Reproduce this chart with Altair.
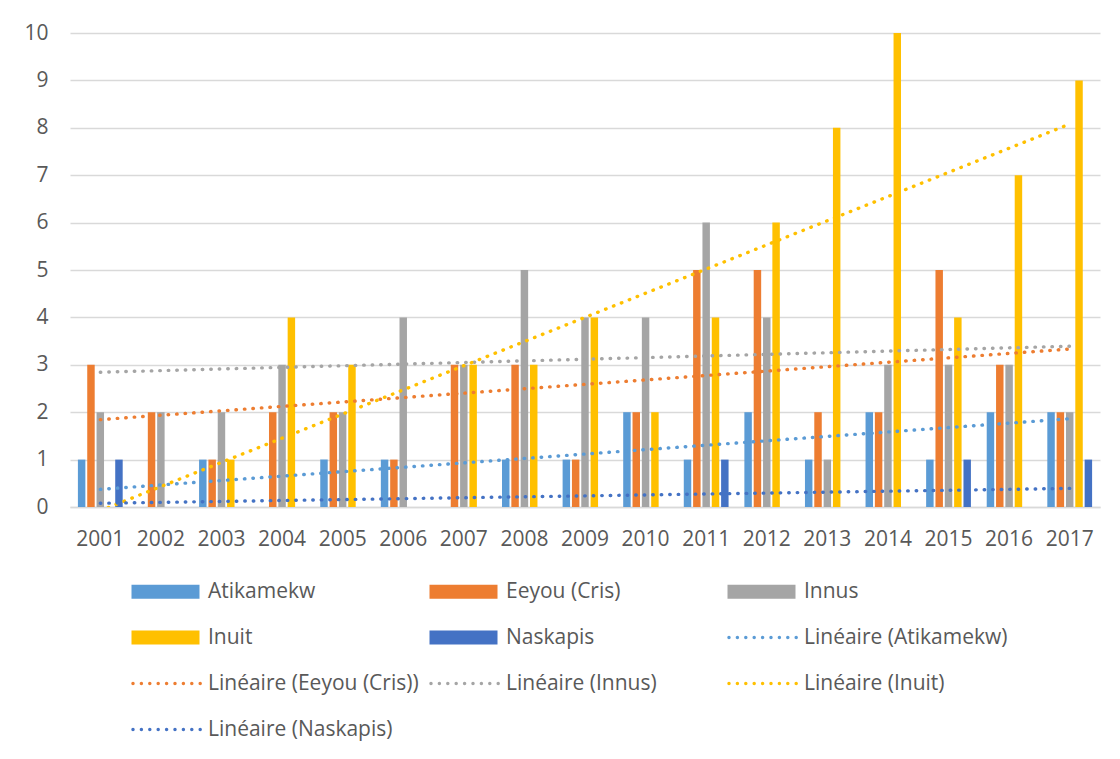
import altair as alt
import pandas as pd

years = [2001, 2002, 2003, 2004, 2005, 2006, 2007, 2008, 2009, 2010,
         2011, 2012, 2013, 2014, 2015, 2016, 2017]
atikamekw = [1, 0, 1, 0, 1, 1, 0, 1, 1, 2, 1, 2, 1, 2, 1, 2, 2]
eeyou = [3, 2, 1, 2, 2, 1, 3, 3, 1, 2, 5, 5, 2, 2, 5, 3, 2]
innus = [2, 2, 2, 3, 2, 4, 3, 5, 4, 4, 6, 4, 1, 3, 3, 3, 2]
inuit = [0, 0, 1, 4, 3, 0, 3, 3, 4, 2, 4, 6, 8, 10, 4, 7, 9]
naskapis = [1, 0, 0, 0, 0, 0, 0, 0, 0, 0, 1, 0, 0, 0, 1, 0, 1]

series_names = ["Atikamekw", "Eeyou (Cris)", "Innus", "Inuit", "Naskapis"]
series_colors = ["#5B9BD5", "#ED7D31", "#A5A5A5", "#FFC000", "#4472C4"]
trend_names = ["Linéaire (Atikamekw)", "Linéaire (Eeyou (Cris))", "Linéaire (Innus)",
               "Linéaire (Inuit)", "Linéaire (Naskapis)"]
y_ticks = [0, 1, 2, 3, 4, 5, 6, 7, 8, 9, 10]

FONT = "Open Sans"
TEXT = "#595959"
GRID = "#D9D9D9"

rows = []
for s, vals in zip(series_names, [atikamekw, eeyou, innus, inuit, naskapis]):
    for yr, v in zip(years, vals):
        rows.append({"yr": yr, "year": str(yr), "series": s, "val": v})
df = pd.DataFrame(rows)

# legend symbols (style only): a wide swatch for bars, a row of dots for trend lines
rect_path = "M-1,-0.7H5.8V0.7H-1Z"
r = 0.17
dot_parts = []
for k in range(9):
    cx = -0.85 + 0.84 * k
    dot_parts.append(f"M{cx - r:.3f},0A{r},{r} 0 1,0 {cx + r:.3f},0A{r},{r} 0 1,0 {cx - r:.3f},0Z")
dots_path = "".join(dot_parts)

legend_names = series_names + trend_names
legend_colors = series_colors + series_colors
legend_shapes = [rect_path] * 5 + [dots_path] * 5

x_enc = alt.X("year:O", title=None,
              scale=alt.Scale(paddingInner=0.23, paddingOuter=0.115),
              axis=alt.Axis(labelAngle=0, ticks=False, grid=False, domainColor=GRID,
                            domainWidth=1.3, labelPadding=21))
y_enc = alt.Y("val:Q", title=None, scale=alt.Scale(domain=[0, 10], nice=False),
              axis=alt.Axis(values=y_ticks, ticks=False, domain=False, labelPadding=22,
                            gridColor=GRID, gridWidth=1.3))

bars = alt.Chart(df).mark_bar().encode(
    x=x_enc,
    xOffset=alt.XOffset("series:N", sort=series_names,
                        scale=alt.Scale(domain=series_names, paddingInner=0.2, paddingOuter=0.1)),
    y=y_enc,
    fill=alt.Fill("series:N", scale=alt.Scale(domain=series_names, range=series_colors), legend=None),
)

lines = alt.Chart(df).transform_regression(
    "yr", "val", groupby=["series"]
).transform_filter(
    "datum.yr == round(datum.yr)"
).transform_calculate(
    year="toString(datum.yr)",
    trend="'Linéaire (' + datum.series + ')'",
).mark_line(strokeDash=[0.5, 8], strokeCap="round", strokeWidth=3.4, clip=True).encode(
    x=x_enc,
    y=y_enc,
    stroke=alt.Stroke("trend:N", scale=alt.Scale(domain=trend_names, range=series_colors), legend=None),
)

leg = alt.Legend(title=None, orient="none", direction="horizontal", legendX=61, legendY=548,
                 columns=3, gridAlign="all", columnPadding=10, rowPadding=24, symbolSize=400,
                 symbolStrokeWidth=0, symbolOpacity=1, labelOffset=56, labelLimit=400,
                 labelFont=FONT, labelFontSize=21, labelColor=TEXT)

legend_df = pd.DataFrame({"name": legend_names})
legend_layer = alt.Chart(legend_df).transform_filter("false").mark_point(
    filled=True, opacity=1, size=400
).encode(
    color=alt.Color("name:N", scale=alt.Scale(domain=legend_names, range=legend_colors), legend=leg),
    shape=alt.Shape("name:N", scale=alt.Scale(domain=legend_names, range=legend_shapes), legend=leg),
)

chart = alt.layer(bars, lines, legend_layer).properties(
    width=1030, height=474,
    autosize=alt.AutoSizeParams(type="none"),
    padding={"left": 62, "top": 25, "right": 10, "bottom": 240},
).configure_view(stroke=None).configure_axis(
    labelFont=FONT, labelFontSize=21, labelColor=TEXT, gridColor=GRID
)

chart.save("out.html", embed_options={"renderer": "svg", "actions": False})
